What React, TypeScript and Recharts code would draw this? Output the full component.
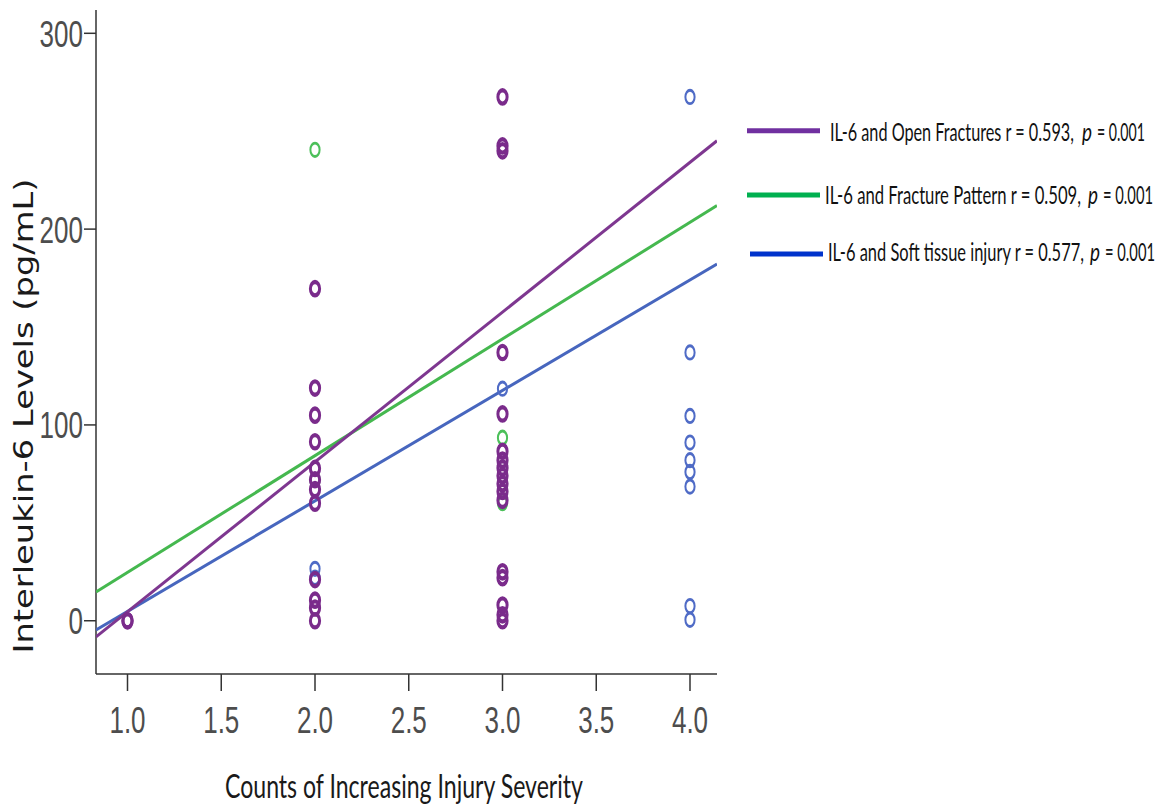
import React, { useLayoutEffect, useRef, useState } from "react";
import { ScatterChart, Scatter, XAxis, YAxis } from "recharts";

// ---- data ----
const xTicks = [1, 1.5, 2, 2.5, 3, 3.5, 4];
const yTicks = [0, 100, 200, 300];
const xDomain: [number, number] = [0.832, 4.144];
const yDomain: [number, number] = [-27.2, 311.9];

const openFracturesAt1 = [0, 0];
const openFracturesAt2 = [169.6, 118.8, 105, 91.4, 77.8, 72, 67, 60, 21, 10.5, 6.5, 0];
const openFracturesAt3 = [267.5, 242.5, 240, 137, 105.6, 86.5, 82, 78, 74, 70, 66, 61.5, 25, 22, 8, 3, 0];
const fracturePatternAt2 = [240.5, 72];
const fracturePatternAt3 = [93.5, 60];
const softTissueAt2 = [26.5, 22];
const softTissueAt3 = [118.5];
const softTissueAt4 = [267.5, 137, 104.6, 91, 82, 76, 68.5, 7.5, 0.5];

// regression: [intercept, slope]
const openFracturesFit = [-71.9, 76.5];
const fracturePatternFit = [-34.9, 59.6];
const softTissueFit = [-51.6, 56.4];

const legendLabels = [
  { pre: "IL-6 and Open Fractures r = 0.593,", p: "p", post: "= 0.001" },
  { pre: "IL-6 and Fracture Pattern  r = 0.509,", p: "p", post: "= 0.001" },
  { pre: "IL-6 and Soft tissue injury r = 0.577,", p: "p", post: "= 0.001" },
];

const COL = {
  purplePt: "#7a2b8b",
  greenPt: "#4cc05a",
  bluePt: "#4f6bc6",
  purpleLn: "#7e3790",
  greenLn: "#45b84f",
  blueLn: "#4766be",
  purpleLg: "#7030a0",
  greenLg: "#00b050",
  blueLg: "#0033cc",
};

const pts = (x: number, ys: number[]) => ys.map((y) => ({ x, y }));
const fitLine = (f: number[]) => [
  { x: xDomain[0], y: f[0] + f[1] * xDomain[0] },
  { x: xDomain[1], y: f[0] + f[1] * xDomain[1] },
];

const openData = [...pts(1, openFracturesAt1), ...pts(2, openFracturesAt2), ...pts(3, openFracturesAt3)];
const patternData = [...pts(2, fracturePatternAt2), ...pts(3, fracturePatternAt3)];
const softData = [...pts(2, softTissueAt2), ...pts(3, softTissueAt3), ...pts(4, softTissueAt4)];

const SY = 1.45;
const tickFont = "'Liberation Sans Narrow', 'Arial Narrow', 'Liberation Sans', sans-serif";
const textFont = "Lato, 'Open Sans', sans-serif";

const Ring = (color: string, sw: number) => (props: any) => {
  const { cx, cy } = props;
  if (cx == null || cy == null) return <g />;
  return (
    <g transform={`translate(${cx},${cy}) scale(1,${SY})`}>
      <circle r={4.6} fill="none" stroke={color} strokeWidth={sw} />
    </g>
  );
};

const NoShape = () => <g />;

const YTick = (props: any) => {
  const { y, payload } = props;
  return (
    <g transform={`translate(83,${y}) scale(1,${SY})`}>
      <text x={0} y={9.3} textAnchor="end" fontSize={26} fontFamily={tickFont} fill="#4d4d4d">
        {String(payload.value)}
      </text>
    </g>
  );
};

const XTick = (props: any) => {
  const { x, payload } = props;
  return (
    <g transform={`translate(${x},691) scale(1,${SY})`}>
      <text x={0} y={29} textAnchor="middle" fontSize={26} fontFamily={tickFont} fill="#4d4d4d">
        {Number(payload.value).toFixed(1)}
      </text>
    </g>
  );
};

// text whose horizontal size is fitted to a target width by a scale transform
const FitText = ({ x, y, fs, sy, len, children, fill = "#1a1a1a", italic = false }: any) => {
  const ref = useRef<SVGTextElement>(null);
  const [sx, setSx] = useState(1);
  useLayoutEffect(() => {
    if (len && ref.current) {
      const w = ref.current.getComputedTextLength();
      if (w > 0) setSx(len / w);
    }
  }, [len, children]);
  return (
    <g transform={`translate(${x},${y}) scale(${sx},${sy})`}>
      <text ref={ref} x={0} y={0} fontSize={fs} fontFamily={textFont} fill={fill} fontStyle={italic ? "italic" : "normal"}>
        {children}
      </text>
    </g>
  );
};

const legendRows = [
  { color: COL.purpleLg, lx1: 747, lx2: 820, ly: 130.7, tx: 830, ty: 140.7, len: 244, px: 1082, qx: 1097, qlen: 48 },
  { color: COL.greenLg, lx1: 747, lx2: 820, ly: 195, tx: 825, ty: 204, len: 256, px: 1088, qx: 1103, qlen: 50 },
  { color: COL.blueLg, lx1: 750, lx2: 823, ly: 254, tx: 828, ty: 261, len: 256, px: 1090, qx: 1105, qlen: 50 },
];

export default function App() {
  return (
    <div style={{ position: "absolute", left: 0, top: 0, width: 1169, height: 807, background: "#fff" }}>
      <ScatterChart width={1169} height={807} margin={{ top: 10, right: 452, bottom: 0, left: 0 }}>
        <XAxis
          type="number"
          dataKey="x"
          domain={xDomain}
          ticks={xTicks}
          allowDataOverflow
          height={133}
          tickSize={17}
          tickMargin={0}
          tick={<XTick />}
          axisLine={{ stroke: "#333", strokeWidth: 1.5 }}
          tickLine={{ stroke: "#333", strokeWidth: 1.5 }}
        />
        <YAxis
          type="number"
          dataKey="y"
          domain={yDomain}
          ticks={yTicks}
          allowDataOverflow
          width={96}
          tickSize={12}
          tickMargin={0}
          tick={<YTick />}
          axisLine={{ stroke: "#333", strokeWidth: 1.5 }}
          tickLine={{ stroke: "#333", strokeWidth: 1.5 }}
        />
        <Scatter data={fitLine(softTissueFit)} line={{ stroke: COL.blueLn, strokeWidth: 3 }} shape={NoShape} isAnimationActive={false} legendType="none" />
        <Scatter data={fitLine(fracturePatternFit)} line={{ stroke: COL.greenLn, strokeWidth: 3 }} shape={NoShape} isAnimationActive={false} legendType="none" />
        <Scatter data={fitLine(openFracturesFit)} line={{ stroke: COL.purpleLn, strokeWidth: 3 }} shape={NoShape} isAnimationActive={false} legendType="none" />
        <Scatter data={softData} shape={Ring(COL.bluePt, 2)} isAnimationActive={false} />
        <Scatter data={patternData} shape={Ring(COL.greenPt, 2)} isAnimationActive={false} />
        <Scatter data={openData} shape={Ring(COL.purplePt, 3)} isAnimationActive={false} />
      </ScatterChart>
      <svg
        width={1169}
        height={807}
        style={{ position: "absolute", left: 0, top: 0, pointerEvents: "none" }}
      >
        <FitText x={225} y={798} fs={23} sy={1.4} len={358}>
          Counts of Increasing Injury Severity
        </FitText>
        <g transform="translate(33,416) rotate(-90)">
          <text
            x={0}
            y={0}
            textAnchor="middle"
            fontSize={26}
            fontFamily="'DejaVu Sans', Verdana, sans-serif"
            fill="#1a1a1a"
            textLength={475}
            lengthAdjust="spacingAndGlyphs"
          >
            Interleukin-6 Levels (pg/mL)
          </text>
        </g>
        {legendRows.map((r, i) => (
          <g key={i}>
            <line x1={r.lx1} x2={r.lx2} y1={r.ly} y2={r.ly} stroke={r.color} strokeWidth={5} />
            <FitText x={r.tx} y={r.ty} fs={19} sy={1.33} len={r.len} fill="#111">
              {legendLabels[i].pre}
            </FitText>
            <FitText x={r.px} y={r.ty} fs={19} sy={1.33} fill="#111" italic>
              {legendLabels[i].p}
            </FitText>
            <FitText x={r.qx} y={r.ty} fs={19} sy={1.33} len={r.qlen} fill="#111">
              {legendLabels[i].post}
            </FitText>
          </g>
        ))}
      </svg>
    </div>
  );
}
